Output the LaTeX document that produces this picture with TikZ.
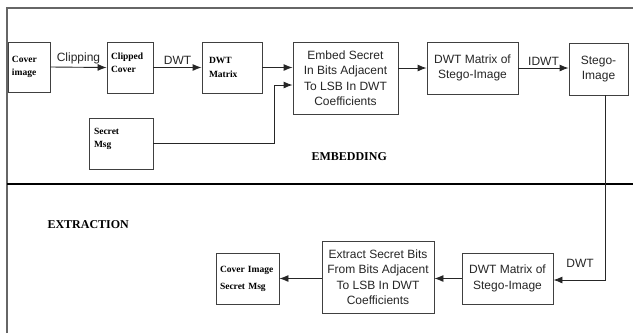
\documentclass[tikz,border=0pt]{standalone}
\usepackage{fontspec}
\setmainfont{Liberation Serif}
\setsansfont{Liberation Sans}
\usetikzlibrary{arrows.meta}
\begin{document}
\begin{tikzpicture}[x=1pt,y=-1pt,
  boxstyle/.style={draw=black!75, line width=0.9pt, inner sep=2pt},
  sansbox/.style={boxstyle, font=\sffamily\fontsize{12}{15.5}\selectfont, align=center, text=black!85},
  serifbox/.style={boxstyle, font=\bfseries\fontsize{9.5}{13.5}\selectfont, align=left},
  arr/.style={draw=black!85, line width=0.9pt, -{Latex[length=9pt,width=7pt]}},
  lbl/.style={font=\sffamily\fontsize{12}{14}\selectfont, text=black!85},
  sect/.style={font=\bfseries\fontsize{12}{14}\selectfont}]
\useasboundingbox (0,0) rectangle (633,333);
\fill[white] (0,0) rectangle (633,333);
% frame and divider
\draw[black!60, line width=1.3pt] (7,333) -- (7,8) -- (633,8);
\draw[black, line width=1.4pt] (7,184) -- (633,184);

% embedding boxes
\node[serifbox, minimum width=42pt, minimum height=50pt, text width=34pt] (cover) at (29,67) {Cover\\image};
\node[serifbox, minimum width=46pt, minimum height=51pt, text width=38pt] (clipped) at (130,67.5) {Clipped\\Cover\\[-4pt]\mbox{}};
\node[serifbox, minimum width=60pt, minimum height=51pt, text width=46pt] (dwtm) at (232,67.5) {DWT\\Matrix};
\node[sansbox, minimum width=105pt, minimum height=72pt] (embed) at (345.5,78) {Embed Secret\\In Bits Adjacent\\To LSB In DWT\\Coefficients};
\node[sansbox, minimum width=91pt, minimum height=52pt] (stegomat) at (472.5,68) {DWT Matrix of\\Stego-Image};
\node[sansbox, minimum width=59pt, minimum height=52pt] (stego) at (598.5,69) {Stego-\\Image};
\node[serifbox, minimum width=64pt, minimum height=51pt, text width=54pt] (secret) at (121,143.5) {Secret\\Msg\\[-2pt]\mbox{}};

% extraction boxes
\node[sansbox, minimum width=91pt, minimum height=51pt] (dwt2) at (507.5,278.5) {DWT Matrix of\\Stego-Image};
\node[sansbox, minimum width=112pt, minimum height=72pt] (extract) at (378,277) {Extract Secret Bits\\From Bits Adjacent\\To LSB In DWT\\Coefficients};
\node[serifbox, minimum width=63pt, minimum height=51pt, text width=55pt, font=\bfseries\fontsize{9.5}{15}\selectfont] (result) at (247.5,278.5) {Cover Image\\[2pt]Secret Msg};

% section labels
\node[sect, anchor=west] (embl) at (308,157) {EMBEDDING};
\node[sect, anchor=west] (extl) at (44,225) {EXTRACTION};

% connectors
\draw[arr] (cover.east) -- (clipped.west) node[lbl, midway, above=-1pt] (lclip) {Clipping};
\draw[arr] (clipped.east) -- (dwtm.west) node[lbl, midway, above=-1pt] (ldwt) {DWT};
\draw[arr] (dwtm.east) -- (dwtm.east -| embed.west);
\coordinate (sm1) at (274,143.5);
\coordinate (sm2) at (274,85);
\draw[arr] (secret.east |- sm1) -- (sm1) -- (sm2) -- (sm2 -| embed.west);
\draw[arr] (embed.east |- stegomat.west) -- (stegomat.west);
\draw[arr] (stegomat.east) -- (stegomat.east -| stego.west) node[lbl, midway, above=-1pt] (lidwt) {IDWT};
\coordinate (st1) at (605,95);
\coordinate (st2) at (605,280);
\draw[arr] (st1) -- (st2) -- (st2 -| dwt2.east);
\node[lbl] (ldwt2) at (580,263) {DWT};
\draw[arr] (dwt2.west) -- (dwt2.west -| extract.east);
\draw[arr] (extract.west |- dwt2.west) -- (extract.west |- dwt2.west -| result.east);
\end{tikzpicture}
\end{document}
